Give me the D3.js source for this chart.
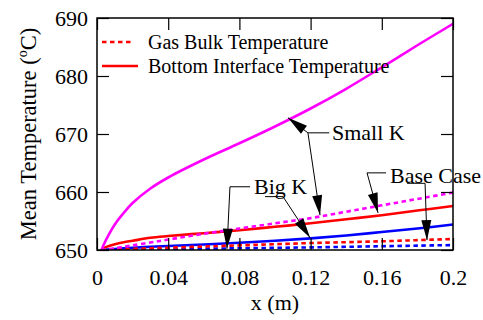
<!DOCTYPE html>
<html><head><meta charset="utf-8">
<script src="https://cdn.jsdelivr.net/npm/d3@7"></script>
<style>body{margin:0;background:#fff}</style>
</head><body><svg id="c" width="483" height="320"></svg>
<script>
const xValues      = [0.0025,0.005,0.01,0.015,0.02,0.03,0.04,0.06,0.08,0.1,0.12,0.14,0.16,0.18,0.2];
const smallKBottom = [650,651.7,654.4,656.4,658.1,660.6,662.5,665.6,668.4,671.3,674.4,677.8,681.5,685.3,689.0];
const smallKGas    = [650,650.1,650.3,650.55,650.8,651.3,651.8,652.8,653.7,654.6,655.5,656.6,657.7,658.8,659.9];
const baseBottom   = [650,650.5,651.0,651.35,651.6,652.1,652.4,652.9,653.4,654.0,654.6,655.3,656.0,656.8,657.6];
const baseGas      = [650,650.03,650.08,650.15,650.2,650.3,650.4,650.6,650.8,651.0,651.2,651.35,651.5,651.7,651.9];
const bigKBottom   = [650,650.08,650.18,650.3,650.4,650.55,650.7,650.95,651.25,651.6,652.0,652.5,653.1,653.7,654.4];
const bigKGas      = [650,650.01,650.03,650.06,650.08,650.12,650.15,650.22,650.3,650.37,650.45,650.55,650.65,650.75,650.85];
const xTicks = [0,0.04,0.08,0.12,0.16,0.2];
const xTickLabels = ["0","0.04","0.08","0.12","0.16","0.2"];
const yTicks = [650,660,670,680,690];
const legendLabels = ["Gas Bulk Temperature","Bottom Interface Temperature"];

const series = [
  {vals: smallKBottom, color:"#ff00ff", dotted:false},
  {vals: smallKGas,    color:"#ff00ff", dotted:true},
  {vals: baseBottom,   color:"#ff0000", dotted:false},
  {vals: baseGas,      color:"#ff0000", dotted:true},
  {vals: bigKBottom,   color:"#0000ff", dotted:false},
  {vals: bigKGas,      color:"#0000ff", dotted:true}
];

// annotations (data coordinates)
const annotations = [
  {label:"Small K", at:[0.132,668.9],
   leaders:[ {path:[[0.1305,670.2],[0.1185,670.2],[0.1073,672.8]]},
             {path:[[0.1185,670.2],[0.1253,656.0]]} ]},
  {label:"Big K", at:[0.0882,659.7],
   leaders:[ {path:[[0.0860,660.9],[0.0747,660.9],[0.0730,650.2]]},
             {path:[[0.0944,659.2],[0.1045,659.2],[0.1197,652.1]]} ]},
  {label:"Base Case", at:[0.1646,661.55],
   leaders:[ {path:[[0.1624,663.3],[0.1517,663.3],[0.1579,656.4]]},
             {path:[[0.1742,661.5],[0.1843,661.5],[0.1854,651.7]]} ]}
];

const FONT = '"Liberation Serif"';
const L=97, R=453, T=18, B=250;
const svg = d3.select("#c");
const x = d3.scaleLinear().domain([0,0.2]).range([L,R]);
const y = d3.scaleLinear().domain([650,690]).range([B,T]);

// curves
const line = d3.line().x((d,i)=>x(xValues[i])).y(d=>y(d)).curve(d3.curveCatmullRom.alpha(0.5));
svg.append("clipPath").attr("id","pc").append("rect").attr("x",L).attr("y",T-2).attr("width",R-L).attr("height",B-T+2);
const g = svg.append("g").attr("clip-path","url(#pc)");
series.slice().reverse().forEach(s=>{
  g.append("path").attr("d",line(s.vals)).attr("fill","none").attr("stroke",s.color)
   .attr("stroke-width",2.6).attr("stroke-dasharray",s.dotted?"4.5,3.5":null);
});

// frame and ticks
svg.append("rect").attr("x",L).attr("y",T).attr("width",R-L).attr("height",B-T)
  .attr("fill","none").attr("stroke","#000").attr("stroke-width",1.5);
const tl = 12;
const axB = svg.append("g").attr("transform",`translate(0,${B})`)
  .call(d3.axisBottom(x).tickValues(xTicks).tickSize(-tl).tickFormat((d,i)=>xTickLabels[i]));
const axT = svg.append("g").attr("transform",`translate(0,${T})`)
  .call(d3.axisTop(x).tickValues(xTicks).tickSize(-tl).tickFormat(""));
const axL = svg.append("g").attr("transform",`translate(${L},0)`)
  .call(d3.axisLeft(y).tickValues(yTicks).tickSize(-tl).tickFormat(d3.format("d")));
const axR = svg.append("g").attr("transform",`translate(${R},0)`)
  .call(d3.axisRight(y).tickValues(yTicks).tickSize(-tl).tickFormat(""));
[axB,axT,axL,axR].forEach(a=>{
  a.attr("font-family",null);
  a.select(".domain").remove();
  a.selectAll(".tick line").attr("stroke","#000").attr("stroke-width",1.2);
  a.selectAll("text").style("font-family",FONT).attr("font-size",22).attr("fill","#000");
});
axB.selectAll(".tick text").attr("y",35).attr("dy",0);
axL.selectAll(".tick text").attr("x",-9).attr("dy","0.33em");

// axis titles
svg.append("text").attr("x",(L+R)/2).attr("y",310).attr("text-anchor","middle")
  .style("font-family",FONT).attr("font-size",22).text("x (m)");
const yt = svg.append("text").attr("transform",`translate(36,${(T+B)/2}) rotate(-90)`)
  .attr("text-anchor","middle").style("font-family",FONT).attr("font-size",22.5);
yt.append("tspan").text("Mean Temperature (");
yt.append("tspan").attr("font-size",14).attr("dy",-9).text("o");
yt.append("tspan").attr("dy",9).text("C)");

// legend
const legY = [42,66];
legendLabels.forEach((lab,i)=>{
  svg.append("line").attr("x1",102).attr("x2",i?138:134).attr("y1",legY[i]).attr("y2",legY[i])
    .attr("stroke","#ff0000").attr("stroke-width",2.6).attr("stroke-dasharray",i?null:"4.5,3.5");
  svg.append("text").attr("x",148).attr("y",legY[i]+7).style("font-family",FONT).attr("font-size",20).text(lab);
});

// annotations
annotations.forEach(a=>{
  a.leaders.forEach(ld=>{
    const pts = ld.path.map(p=>[x(p[0]),y(p[1])]);
    svg.append("path").attr("d",d3.line()(pts)).attr("fill","none").attr("stroke","#000").attr("stroke-width",1);
    const tip = pts[pts.length-1], from = pts[pts.length-2];
    const dx = tip[0]-from[0], dy = tip[1]-from[1], len = Math.hypot(dx,dy);
    const ux = dx/len, uy = dy/len, hl = 20, hw = 5;
    const bx = tip[0]-ux*hl, by = tip[1]-uy*hl;
    svg.append("path").attr("d",`M${tip[0]},${tip[1]}L${bx-uy*hw},${by+ux*hw}L${bx+uy*hw},${by-ux*hw}Z`).attr("fill","#000");
  });
  svg.append("text").attr("x",x(a.at[0])).attr("y",y(a.at[1])).style("font-family",FONT).attr("font-size",22).text(a.label);
});
</script></body></html>
